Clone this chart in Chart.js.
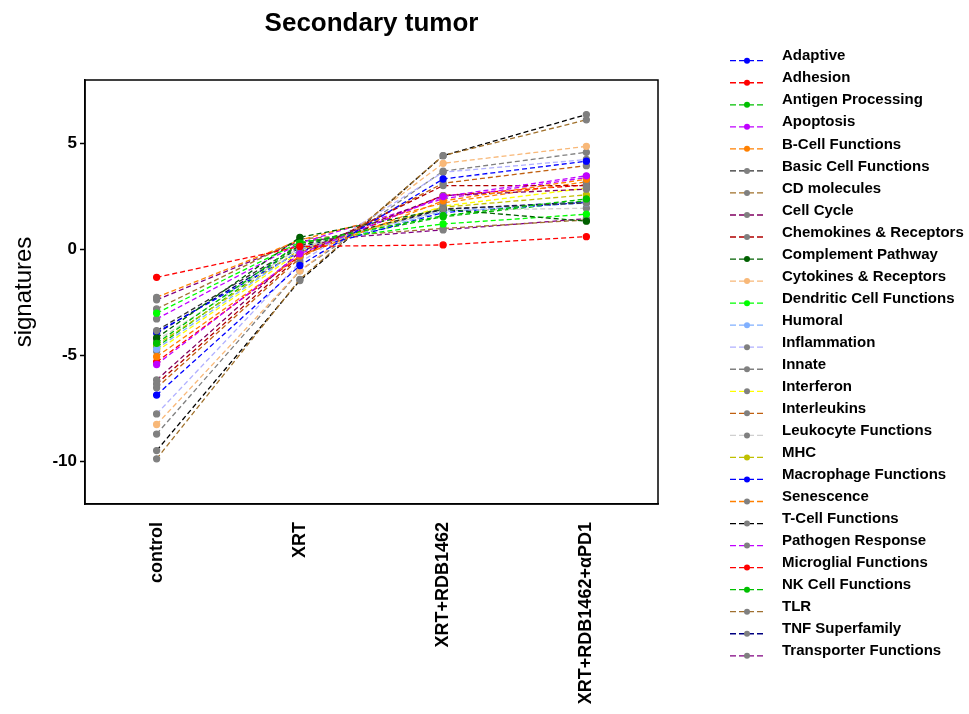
<!DOCTYPE html>
<html>
<head>
<meta charset="utf-8">
<script src="https://cdn.jsdelivr.net/npm/chart.js@4.4.0/dist/chart.umd.min.js"></script>
<style>
  html, body { margin: 0; padding: 0; background: #fff; }
  #wrap { width: 969px; height: 714px; }
</style>
</head>
<body>
<div id="wrap"><canvas id="c" width="969" height="714"></canvas></div>
<script>
const chartTitle = 'Secondary tumor';
const yAxisTitle = 'signatures';
const categories = ['control', 'XRT', 'XRT+RDB1462', 'XRT+RDB1462+\u03B1PD1'];
const yTicks = [-10, -5, 0, 5];

const seriesNames = [
  'Adaptive', 'Adhesion', 'Antigen Processing', 'Apoptosis', 'B-Cell Functions',
  'Basic Cell Functions', 'CD molecules', 'Cell Cycle', 'Chemokines & Receptors',
  'Complement Pathway', 'Cytokines & Receptors', 'Dendritic Cell Functions', 'Humoral',
  'Inflammation', 'Innate', 'Interferon', 'Interleukins', 'Leukocyte Functions', 'MHC',
  'Macrophage Functions', 'Senescence', 'T-Cell Functions', 'Pathogen Response',
  'Microglial Functions', 'NK Cell Functions', 'TLR', 'TNF Superfamily', 'Transporter Functions'
];

// values per category, one entry per series (same order as seriesNames)
const valuesControl = [-6.86, -1.31, -4.42, -5.42, -5.05, -3.82, -9.87, -6.15, -6.34, -4.17,
  -8.25, -3.00, -4.69, -7.75, -8.70, -4.80, -6.52, -4.30, -4.50, -3.90,
  -2.25, -9.48, -3.27, -5.30, -4.60, -2.80, -3.95, -2.37];
const valuesXRT = [-0.75, 0.15, 0.30, -0.20, -0.30, 0.20, -1.40, -0.10, -0.30, 0.58,
  -1.00, 0.35, 0.00, -0.60, -1.00, -0.10, -0.40, 0.10, 0.00, -0.10,
  0.45, -1.46, 0.30, -0.30, 0.20, 0.50, 0.10, 0.40];
const valuesRDB = [3.33, 0.22, 1.60, 2.50, 2.30, 1.92, 4.43, 2.55, 3.02, 1.90,
  4.07, 1.21, 1.80, 3.65, 3.70, 2.05, 3.13, 1.85, 2.00, 1.75,
  2.20, 4.43, 2.40, 2.55, 1.55, 1.00, 1.90, 0.93];
const valuesPD1 = [4.17, 0.61, 2.39, 3.48, 3.32, 2.20, 6.12, 2.85, 3.02, 1.34,
  4.87, 1.67, 2.20, 4.25, 4.59, 2.90, 3.96, 1.95, 2.58, 2.23,
  3.20, 6.37, 3.40, 3.05, 2.30, 1.40, 2.25, 1.46];

const lineColors = [
  '#0000ff', '#ff0000', '#00c000', '#c000ff', '#ff8000',
  '#303030', '#a0702a', '#800060', '#b00000',
  '#006000', '#f8b878', '#00ff00', '#80b0ff',
  '#b0b0ff', '#808080', '#ffff00', '#c06010', '#d0d0d0', '#c0c000',
  '#0000ff', '#ff8000', '#000000', '#c000ff',
  '#ff0000', '#00c000', '#a07030', '#000080', '#800080'
];
const pointColors = [
  '#0000ff', '#ff0000', '#00c000', '#c000ff', '#ff8000',
  '#808080', '#808080', '#808080', '#808080',
  '#006000', '#f8b878', '#00ff00', '#80b0ff',
  '#808080', '#808080', '#808080', '#808080', '#808080', '#c0c000',
  '#0000ff', '#808080', '#808080', '#808080',
  '#ff0000', '#00c000', '#808080', '#808080', '#808080'
];

const FONT = "'Liberation Sans', Arial, Helvetica, sans-serif";

const datasets = seriesNames.map((name, i) => ({
  label: name,
  data: [valuesControl[i], valuesXRT[i], valuesRDB[i], valuesPD1[i]],
  borderColor: lineColors[i],
  backgroundColor: pointColors[i],
  pointBackgroundColor: pointColors[i],
  pointBorderColor: pointColors[i],
  borderWidth: 1.3,
  borderDash: [5, 3],
  pointRadius: 3,
  pointHoverRadius: 3,
  tension: 0,
  fill: false
}));

const framePlugin = {
  id: 'frameTitleLegend',
  afterDraw(chart) {
    const ctx = chart.ctx;
    const a = chart.chartArea;
    ctx.save();
    // frame
    ctx.strokeStyle = '#000';
    ctx.lineWidth = 1.5;
    ctx.setLineDash([]);
    ctx.strokeRect(a.left, a.top, a.right - a.left, a.bottom - a.top);
    // title
    ctx.fillStyle = '#000';
    ctx.font = 'bold 26px ' + FONT;
    ctx.textAlign = 'center';
    ctx.textBaseline = 'alphabetic';
    ctx.fillText(chartTitle, (a.left + a.right) / 2, 31);
    // legend
    ctx.font = 'bold 15px ' + FONT;
    ctx.textAlign = 'left';
    ctx.textBaseline = 'middle';
    chart.data.datasets.forEach((ds, i) => {
      const yl = 60.7 + i * 22.04;
      ctx.strokeStyle = ds.borderColor;
      ctx.lineWidth = 1.3;
      ctx.setLineDash([6, 3]);
      ctx.beginPath();
      ctx.moveTo(730, yl);
      ctx.lineTo(765, yl);
      ctx.stroke();
      ctx.setLineDash([]);
      ctx.fillStyle = ds.pointBackgroundColor;
      ctx.beginPath();
      ctx.arc(747, yl, 3, 0, Math.PI * 2);
      ctx.fill();
      ctx.fillStyle = '#000';
      ctx.fillText(ds.label, 782, yl - 4.5);
    });
    ctx.restore();
  }
};

new Chart(document.getElementById('c'), {
  type: 'line',
  data: { labels: categories, datasets },
  options: {
    responsive: false,
    devicePixelRatio: 1,
    animation: false,
    events: [],
    layout: { padding: { top: 80, right: 311, left: 0, bottom: 0 } },
    plugins: {
      legend: { display: false },
      title: { display: false },
      tooltip: { enabled: false }
    },
    scales: {
      x: {
        type: 'category',
        offset: true,
        grid: { display: false, drawOnChartArea: false },
        border: { display: true, color: '#000', width: 1.5 },
        ticks: {
          color: '#000',
          font: { family: FONT, size: 18, weight: 'bold' },
          maxRotation: 90,
          minRotation: 90,
          padding: 10,
          autoSkip: false
        },
        afterFit(scale) { scale.height = 210; }
      },
      y: {
        type: 'linear',
        min: -12,
        max: 8,
        afterBuildTicks(scale) { scale.ticks = yTicks.map(v => ({ value: v })); },
        grid: { display: true, drawOnChartArea: false, drawTicks: true, tickLength: 5, color: '#000', tickWidth: 1.5 },
        border: { display: true, color: '#000', width: 1.5 },
        ticks: {
          color: '#000',
          font: { family: FONT, size: 17, weight: 'bold' },
          padding: 3
        },
        title: {
          display: true,
          text: yAxisTitle,
          color: '#000',
          font: { family: FONT, size: 24 },
          padding: { top: 10, bottom: 0 }
        },
        afterFit(scale) { scale.width = 85; }
      }
    }
  },
  plugins: [framePlugin]
});
</script>
</body>
</html>
